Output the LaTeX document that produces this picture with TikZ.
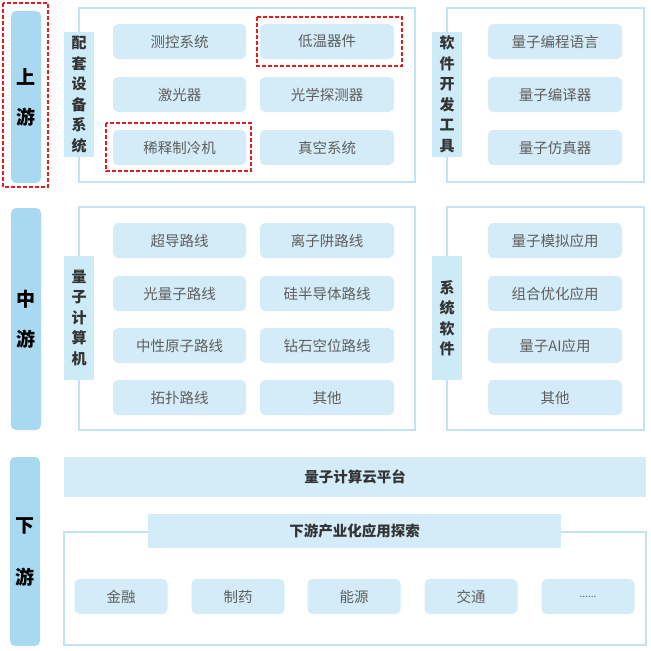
\documentclass[tikz,border=0pt]{standalone}
\usepackage{fontspec}
\setmainfont{Noto Sans CJK SC}
\begin{document}
\begin{tikzpicture}[x=1pt,y=-1pt,
  item/.style={rectangle,rounded corners=5pt,fill=itemblue,draw=none,text=itemtext,font=\fontsize{14.5}{16}\selectfont,inner sep=0pt},
  stage/.style={rectangle,rounded corners=5pt,fill=stageblue,draw=none,text=black,font=\fontsize{19}{40}\selectfont\bfseries,align=center,inner sep=0pt,minimum width=30pt},
  tab/.style={rectangle,fill=tabblue,draw=none,text=tabtext,font=\fontsize{15}{20.5}\selectfont\bfseries,align=center,inner sep=0pt,minimum width=30pt},
  outer/.style={draw=borderblue,line width=1.2pt,fill=white},
  bar/.style={rectangle,fill=itemblue,draw=none,text=tabtext,font=\fontsize{14.5}{16}\selectfont\bfseries,inner sep=0pt},
  redbox/.style={draw=redline,line width=1.4pt,dash pattern=on 4pt off 2pt}
]
\definecolor{itemblue}{HTML}{D3ECF8}
\definecolor{stageblue}{HTML}{A9D9F1}
\definecolor{tabblue}{HTML}{CDEAF7}
\definecolor{borderblue}{HTML}{C2E3F3}
\definecolor{itemtext}{HTML}{5E5E5E}
\definecolor{tabtext}{HTML}{333333}
\definecolor{redline}{HTML}{E02020}
\useasboundingbox[fill=white] (0,0) rectangle (651,651);

% stage bars
\node[stage,minimum height=172pt] (up) at (26,97) {上\\游};
\node[stage,minimum height=222pt] (mid) at (26,319) {中\\游};
\node[stage,minimum height=189pt] (down) at (25,551.5) {下\\[12pt]游};
\draw[redbox] (3,3) rectangle (48,187);

% upper left box
\draw[outer] (79,8) rectangle (415,182);
\node[tab,minimum height=125pt] (tab1) at (79,94.5) {配\\套\\设\\备\\系\\统};
\node[item,minimum width=133pt,minimum height=35pt] (a1) at (179.5,41.5) {测控系统};
\node[item,minimum width=134pt,minimum height=35pt] (a2) at (327,41.5) {低温器件};
\node[item,minimum width=133pt,minimum height=35pt] (a3) at (179.5,94.5) {激光器};
\node[item,minimum width=134pt,minimum height=35pt] (a4) at (327,94.5) {光学探测器};
\node[item,minimum width=133pt,minimum height=35pt] (a5) at (179.5,147.5) {稀释制冷机};
\node[item,minimum width=134pt,minimum height=35pt] (a6) at (327,147.5) {真空系统};
\draw[redbox] (257,17) rectangle (402,66);
\draw[redbox] (106,123) rectangle (251,171);

% upper right box
\draw[outer] (447,8) rectangle (644,182);
\node[tab,minimum height=125pt] (tab2) at (447,94.5) {软\\件\\开\\发\\工\\具};
\node[item,minimum width=134pt,minimum height=35pt] (b1) at (555,41.5) {量子编程语言};
\node[item,minimum width=134pt,minimum height=35pt] (b2) at (555,94.5) {量子编译器};
\node[item,minimum width=134pt,minimum height=35pt] (b3) at (555,147.5) {量子仿真器};

% middle left box
\draw[outer] (79,207) rectangle (415,430);
\node[tab,minimum height=124pt] (tab3) at (79,318) {量\\子\\计\\算\\机};
\node[item,minimum width=133pt,minimum height=35pt] (c1) at (179.5,240.5) {超导路线};
\node[item,minimum width=134pt,minimum height=35pt] (c2) at (327,240.5) {离子阱路线};
\node[item,minimum width=133pt,minimum height=35pt] (c3) at (179.5,293.5) {光量子路线};
\node[item,minimum width=134pt,minimum height=35pt] (c4) at (327,293.5) {硅半导体路线};
\node[item,minimum width=133pt,minimum height=35pt] (c5) at (179.5,345.5) {中性原子路线};
\node[item,minimum width=134pt,minimum height=35pt] (c6) at (327,345.5) {钻石空位路线};
\node[item,minimum width=133pt,minimum height=35pt] (c7) at (179.5,397.5) {拓扑路线};
\node[item,minimum width=134pt,minimum height=35pt] (c8) at (327,397.5) {其他};

% middle right box
\draw[outer] (447,207) rectangle (644,430);
\node[tab,minimum height=124pt] (tab4) at (447,318) {系\\统\\软\\件};
\node[item,minimum width=134pt,minimum height=35pt] (d1) at (555,240.5) {量子模拟应用};
\node[item,minimum width=134pt,minimum height=35pt] (d2) at (555,293.5) {组合优化应用};
\node[item,minimum width=134pt,minimum height=35pt] (d3) at (555,345.5) {量子AI应用};
\node[item,minimum width=134pt,minimum height=35pt] (d4) at (555,397.5) {其他};

% bottom
\node[bar,minimum width=582pt,minimum height=40pt] (cloud) at (355,477) {量子计算云平台};
\draw[outer] (64,532) rectangle (646,645);
\node[bar,minimum width=413pt,minimum height=34pt] (explore) at (354.5,531) {下游产业化应用探索};
\node[item,minimum width=93pt,minimum height=35pt] (e1) at (121,596.5) {金融};
\node[item,minimum width=93pt,minimum height=35pt] (e2) at (238,596.5) {制药};
\node[item,minimum width=93pt,minimum height=35pt] (e3) at (354,596.5) {能源};
\node[item,minimum width=93pt,minimum height=35pt] (e4) at (471,596.5) {交通};
\node[item,minimum width=93pt,minimum height=35pt] (e5) at (588,596.5) {\fontsize{10}{12}\selectfont ......};
\end{tikzpicture}
\end{document}
